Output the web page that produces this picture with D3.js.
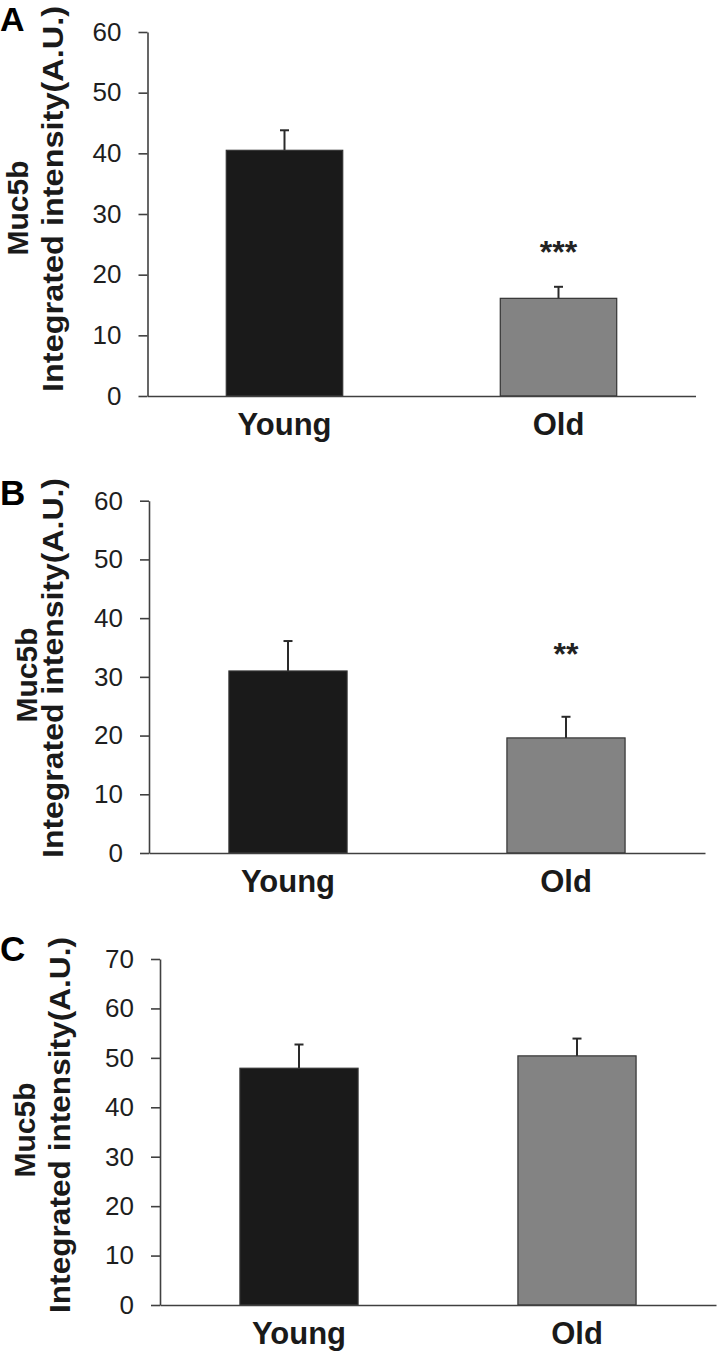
<!DOCTYPE html>
<html><head><meta charset="utf-8">
<script src="https://cdn.jsdelivr.net/npm/d3@7"></script>
<style>body{margin:0;background:#fff} svg{display:block}</style>
</head><body>
<script>
// ---- data ----
const categories = ["Young", "Old"];
const panelLetters = ["A", "B", "C"];
const youngMeans = [40.5, 31.0, 47.9];
const oldMeans = [16.1, 19.6, 50.4];
const youngErrors = [3.3, 5.1, 4.8];
const oldErrors = [1.9, 3.6, 3.5];
const yMaxes = [60, 60, 70];
const tickStep = 10;
const significance = ["***", "**", ""];
const significanceAt = [22.0, 32.0, null];
const yTitleLine1 = "Muc5b";
const yTitleLine2 = "Integrated intensity(A.U.)";

// ---- layout ----
const W = 720, H = 1355;
const FONT = "'Liberation Sans', Arial, Helvetica, sans-serif";
const barColors = ["#1a1a1a", "#838383"];
const layout = [
  {x0:147.5, x1:695.5, yTop:32,  yBottom:396,  letterY:31,  letterSize:34, t1x:28, t1y:208,  t2x:63, t2y:199,  t2len:386},
  {x0:149,   x1:705,   yTop:500.7, yBottom:853, letterY:505, letterSize:35, t1x:37, t1y:675,  t2x:63, t2y:668,  t2len:380},
  {x0:160,   x1:716,   yTop:959, yBottom:1305, letterY:961, letterSize:35, t1x:35, t1y:1130, t2x:70, t2y:1125, t2len:376}
];

const svg = d3.select("body").append("svg").attr("width", W).attr("height", H)
  .style("font-family", FONT);

panelLetters.forEach((letter, i) => {
  const L = layout[i];
  const g = svg.append("g");
  const x = d3.scaleBand().domain(categories).range([L.x0, L.x1]).padding(0);
  const y = d3.scaleLinear().domain([0, yMaxes[i]]).range([L.yBottom, L.yTop]);
  const bw = x.bandwidth() * 0.425;
  const data = categories.map((c, k) => ({
    cat: c,
    mean: k === 0 ? youngMeans[i] : oldMeans[i],
    err: k === 0 ? youngErrors[i] : oldErrors[i],
    color: barColors[k]
  }));

  // error bars (upper only)
  const eb = g.selectAll(".eb").data(data).join("g");
  eb.append("line")
    .attr("x1", d => x(d.cat) + x.bandwidth() / 2)
    .attr("x2", d => x(d.cat) + x.bandwidth() / 2)
    .attr("y1", d => y(d.mean))
    .attr("y2", d => y(d.mean + d.err))
    .attr("stroke", "#2a2a2a").attr("stroke-width", 2);
  eb.append("line")
    .attr("x1", d => x(d.cat) + x.bandwidth() / 2 - 4.5)
    .attr("x2", d => x(d.cat) + x.bandwidth() / 2 + 4.5)
    .attr("y1", d => y(d.mean + d.err))
    .attr("y2", d => y(d.mean + d.err))
    .attr("stroke", "#2a2a2a").attr("stroke-width", 2);

  // bars
  g.selectAll(".bar").data(data).join("rect")
    .attr("x", d => x(d.cat) + (x.bandwidth() - bw) / 2)
    .attr("width", bw)
    .attr("y", d => y(d.mean))
    .attr("height", d => y(0) - y(d.mean))
    .attr("fill", d => d.color)
    .attr("stroke", "#333").attr("stroke-width", 1.2);

  // y axis
  const yAxis = g.append("g").attr("transform", `translate(${L.x0},0)`)
    .call(d3.axisLeft(y).tickValues(d3.range(0, yMaxes[i] + 1, tickStep))
      .tickSize(9).tickSizeOuter(0).tickPadding(17));
  yAxis.select(".domain").attr("stroke", "#404040").attr("stroke-width", 1.6);
  yAxis.selectAll(".tick line").attr("stroke", "#404040").attr("stroke-width", 1.6);
  yAxis.selectAll(".tick text").attr("fill", "#1e1e1e").style("font-size", "26px").style("font-family", FONT);

  // x axis
  const xAxis = g.append("g").attr("transform", `translate(0,${L.yBottom})`)
    .call(d3.axisBottom(x).tickSize(0).tickSizeOuter(0).tickPadding(17));
  xAxis.select(".domain").attr("stroke", "#404040").attr("stroke-width", 1.6);
  xAxis.selectAll(".tick text").attr("fill", "#1a1a1a")
    .style("font-size", "31px").style("font-weight", "bold").style("font-family", FONT);

  // significance
  if (significance[i]) {
    g.append("text")
      .attr("x", x("Old") + x.bandwidth() / 2)
      .attr("y", y(significanceAt[i]))
      .attr("text-anchor", "middle")
      .attr("fill", "#222")
      .style("font-size", "32px").style("font-weight", "bold")
      .text(significance[i]);
  }

  // panel letter
  g.append("text").attr("x", 0).attr("y", L.letterY)
    .attr("fill", "#000").style("font-size", L.letterSize + "px").style("font-weight", "bold")
    .text(letter);

  // y title
  g.append("text")
    .attr("transform", `translate(${L.t1x},${L.t1y}) rotate(-90)`)
    .attr("text-anchor", "middle").attr("fill", "#1a1a1a")
    .style("font-size", "30px").style("font-weight", "bold")
    .text(yTitleLine1);
  g.append("text")
    .attr("transform", `translate(${L.t2x},${L.t2y}) rotate(-90)`)
    .attr("text-anchor", "middle").attr("fill", "#1a1a1a")
    .attr("textLength", L.t2len).attr("lengthAdjust", "spacingAndGlyphs")
    .style("font-size", "30px").style("font-weight", "bold")
    .text(yTitleLine2);
});
</script>
</body></html>
